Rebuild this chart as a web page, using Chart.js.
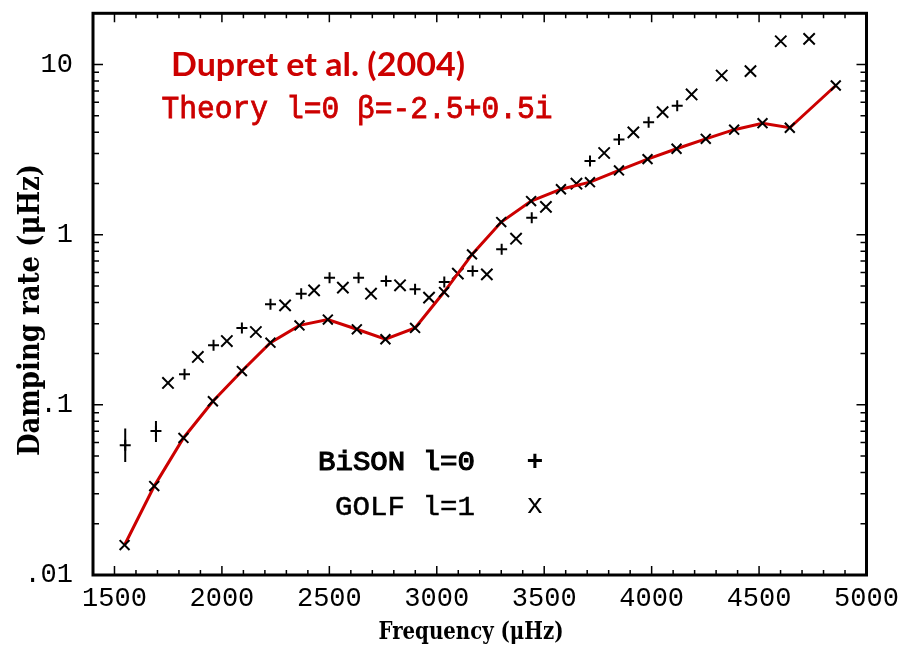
<!DOCTYPE html>
<html><head><meta charset="utf-8">
<script src="https://cdn.jsdelivr.net/npm/chart.js@4/dist/chart.umd.min.js"></script>
<style>html,body{margin:0;padding:0;background:#fff}#wrap{width:907px;height:655px;position:relative}</style>
</head><body><div id="wrap"><canvas id="c" width="907" height="655"></canvas></div>
<script>
// ---- data ----
const theoryFreq = [1547,1685,1821,1958,2093,2226,2361,2493,2628,2761,2899,3034,3164,3300,3439,3578,3713,3848,3981,4116,4252,4384,4516,4643,4857];
const theoryRate = [0.0150,0.0333,0.0639,0.105,0.158,0.232,0.293,0.317,0.278,0.243,0.283,0.460,0.766,1.186,1.576,1.85,2.036,2.385,2.78,3.20,3.66,4.14,4.52,4.25,7.53];

const bisonFreq = [1550,1693,1826,1961,2093,2226,2369,2501,2636,2764,2899,3035,3167,3302,3442,3713,3848,3986,4119];
const bisonRate = [0.0579,0.0703,0.1513,0.2239,0.2829,0.3897,0.450,0.559,0.559,0.534,0.4774,0.5268,0.6115,0.820,1.258,2.706,3.63,4.58,5.72];
const bisonErrLow  = [0.0462,0.0605,null,null,null,null,null,null,null,null,null,null,null,null,null,null,null,null,null];
const bisonErrHigh = [0.0726,0.0804,null,null,null,null,null,null,null,null,null,null,null,null,null,null,null,null,null];

const golfFreq = [1749,1888,2023,2158,2294,2429,2563,2694,2829,2964,3098,3233,3369,3508,3650,3779,3915,4051,4186,4326,4460,4601,4733];
const golfRate = [0.1345,0.1911,0.2372,0.268,0.3843,0.4709,0.4884,0.450,0.504,0.4266,0.590,0.5845,0.947,1.456,1.993,3.02,3.99,5.25,6.67,8.62,9.14,13.7,14.15];

const xTickLabels = [1500,2000,2500,3000,3500,4000,4500,5000];
const yTickValues = [0.01,0.1,1,10];
const yTickTexts  = ['.01','.1','1','10'];

const RED = '#cc0000';
const pts = (xs, ys) => xs.map((x, i) => ({x: x, y: ys[i]}));

function fitText(ctx, txt, x, y, w, font, color, rot, stroke) {
  ctx.save();
  ctx.font = font; ctx.fillStyle = color; ctx.textBaseline = 'middle';
  const m = ctx.measureText(txt).width;
  ctx.translate(x, y);
  if (rot) ctx.rotate(rot);
  ctx.scale(w / m, 1);
  ctx.textAlign = 'center';
  ctx.fillText(txt, 0, 0);
  if (stroke) { ctx.strokeStyle = color; ctx.lineWidth = stroke; ctx.strokeText(txt, 0, 0); }
  ctx.restore();
}

const framePlugin = {
  id: 'frame',
  beforeDatasetsDraw(chart) {
    const {ctx, chartArea: a, scales: {x, y}} = chart;
    ctx.save();
    ctx.strokeStyle = '#000'; ctx.lineWidth = 1.5;
    ctx.beginPath();
    for (let f = 1400; f <= 5000; f += 100) {
      const px = x.getPixelForValue(f);
      const L = (f % 500 === 0) ? 9 : 5;
      ctx.moveTo(px, a.bottom); ctx.lineTo(px, a.bottom - L);
      ctx.moveTo(px, a.top); ctx.lineTo(px, a.top + L);
    }
    for (let d = -2; d <= 1; d++) {
      for (let m = 1; m <= 9; m++) {
        const v = m * Math.pow(10, d);
        if (v > 20) continue;
        const py = y.getPixelForValue(v);
        const L = (m === 1) ? 10 : 6;
        ctx.moveTo(a.left, py); ctx.lineTo(a.left + L, py);
        ctx.moveTo(a.right, py); ctx.lineTo(a.right - L, py);
      }
    }
    ctx.stroke();
    ctx.lineWidth = 3;
    ctx.strokeRect(a.left, a.top, a.right - a.left, a.bottom - a.top);
    // error bars
    ctx.lineWidth = 2;
    ctx.beginPath();
    bisonFreq.forEach((f, i) => {
      if (bisonErrLow[i] == null) return;
      const px = x.getPixelForValue(f);
      ctx.moveTo(px, y.getPixelForValue(bisonErrLow[i]));
      ctx.lineTo(px, y.getPixelForValue(bisonErrHigh[i]));
    });
    ctx.stroke();
    ctx.restore();
  },
  afterDraw(chart) {
    const ctx = chart.ctx;
    fitText(ctx, 'Dupret et al. (2004)', 318, 66, 294, 'bold 32px Lato', RED);
    fitText(ctx, 'Theory l=0 \u03b2=-2.5+0.5i', 357, 110, 391, '31px "Liberation Mono"', RED, 0, 0.8);
    fitText(ctx, 'BiSON l=0', 396.5, 463, 157, '28px "Liberation Mono"', '#000', 0, 1.2);
    fitText(ctx, 'GOLF l=1', 405, 508, 140, '28px "Liberation Mono"', '#000', 0, 0.5);
    ctx.save();
    ctx.fillStyle = '#000'; ctx.textAlign = 'center'; ctx.textBaseline = 'middle';
    ctx.font = 'bold 28px "Liberation Mono"';
    ctx.fillText('+', 535, 463);
    ctx.font = '28px "Liberation Mono"';
    ctx.fillText('x', 535, 506);
    ctx.restore();
    fitText(ctx, 'Damping rate (\u03bcHz)', 31, 310, 292, 'bold 30px "DejaVu Serif"', '#000', -Math.PI / 2);
    fitText(ctx, 'Frequency (\u03bcHz)', 471, 632, 185, 'bold 25px "DejaVu Serif"', '#000');
  }
};

new Chart(document.getElementById('c'), {
  type: 'scatter',
  data: {
    datasets: [
      {
        label: 'Theory', data: pts(theoryFreq, theoryRate), showLine: true,
        borderColor: RED, borderWidth: 3, tension: 0,
        pointStyle: 'crossRot', pointRadius: 7, pointBorderColor: '#000', pointBorderWidth: 2,
        pointBackgroundColor: '#000', order: 1
      },
      {
        label: 'BiSON l=0', data: pts(bisonFreq, bisonRate), showLine: false,
        pointStyle: 'cross', pointRadius: 5.5, pointBorderColor: '#000', pointBorderWidth: 2, order: 2
      },
      {
        label: 'GOLF l=1', data: pts(golfFreq, golfRate), showLine: false,
        pointStyle: 'crossRot', pointRadius: 8, pointBorderColor: '#000', pointBorderWidth: 2, order: 3
      }
    ]
  },
  options: {
    responsive: false, animation: false, devicePixelRatio: 1,
    layout: {padding: {left: 0, right: 40.5, top: 13.3, bottom: 0}},
    plugins: {legend: {display: false}, tooltip: {enabled: false}},
    scales: {
      x: {
        type: 'linear', min: 1400, max: 5000,
        grid: {display: false, drawTicks: false}, border: {display: false},
        afterFit: s => { s.height = 80; s.paddingLeft = 0; s.paddingRight = 0; },
        afterBuildTicks: s => { s.ticks = xTickLabels.map(v => ({value: v})); },
        ticks: {
          autoSkip: false, maxRotation: 0, padding: 8, color: '#000',
          font: {family: '"Liberation Mono"', size: 27},
          callback: v => String(v)
        }
      },
      y: {
        type: 'logarithmic', min: 0.01, max: 20,
        grid: {display: false, drawTicks: false}, border: {display: false},
        afterFit: s => { s.width = 93; s.paddingTop = 0; s.paddingBottom = 0; },
        afterBuildTicks: s => { s.ticks = yTickValues.map(v => ({value: v})); },
        ticks: {
          autoSkip: false, padding: 20, color: '#000',
          font: {family: '"Liberation Mono"', size: 27},
          callback: (v, i) => yTickTexts[i]
        }
      }
    }
  },
  plugins: [framePlugin]
});
</script></body></html>
